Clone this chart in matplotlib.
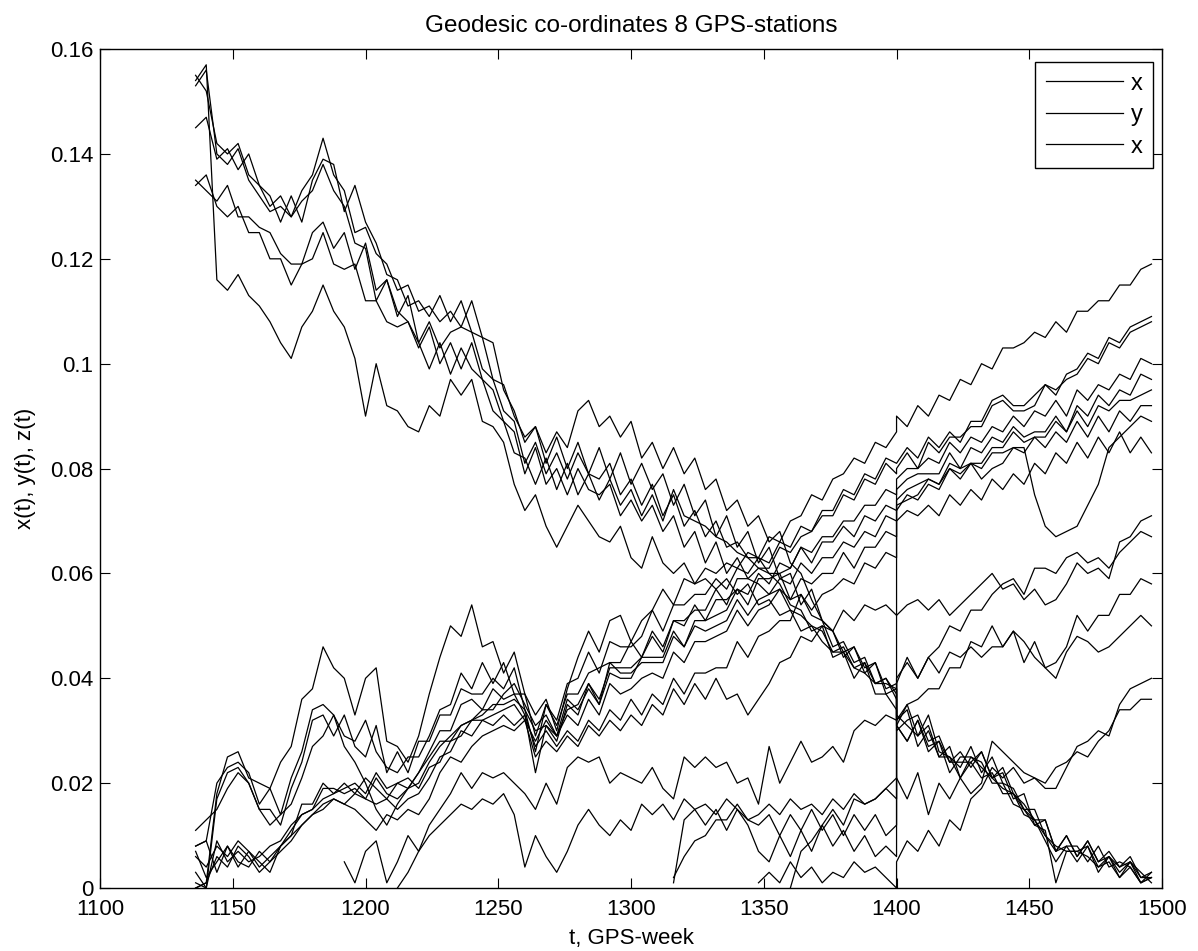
import numpy as np
import matplotlib
matplotlib.use('Agg')
import matplotlib.pyplot as plt
from matplotlib.ticker import FormatStrFormatter

'''
Geodesic co-ordinates of 8 GPS-stations against GPS week.
Values are read off the original figure every 4 weeks, in units of 0.001.
Each series is split at week 1400 (the frame change), so it is given as
a "pre" part that ends at week 1400 and a "post" part that starts there.
'''

plt.rcParams['font.family'] = ['Liberation Sans', 'DejaVu Sans']

# GPS weeks
weeksPre = np.arange(1136, 1401, 4)
weeksPost = np.arange(1400, 1497, 4)

# decreasing series
decA_pre = [155, 152, 142, 140, 142, 136, 134, 130, 132, 128, 133, 136, 143, 136, 133, 125, 126, 121, 119, 114,
            115, 110, 111, 108, 110, 107, 112, 105, 104, 95, 91, 85, 88, 83, 87, 84, 91, 93, 88, 90,
            86, 89, 82, 85, 80, 84, 79, 82, 76, 78, 72, 74, 69, 71, 66, 68, 62, 60, 55, 51,
            49, 44, 46, 41, 43, 37, 38]
decA_post = [31, 28, 32, 27, 28, 24, 26, 23, 26, 21, 22, 17, 18, 12, 13, 7, 10, 6, 9, 5, 7, 4, 6, 2, 3]

decB_pre = [145, 147, 139, 141, 137, 140, 134, 132, 127, 132, 127, 135, 139, 138, 129, 134, 127, 123, 117, 116,
            111, 112, 109, 113, 108, 112, 106, 105, 97, 96, 90, 86, 88, 81, 86, 80, 85, 79, 84, 78,
            83, 77, 81, 76, 79, 73, 77, 71, 74, 67, 71, 65, 68, 62, 65, 59, 60, 54, 57, 51,
            49, 45, 46, 42, 43, 38, 39]
decB_post = [32, 35, 29, 33, 26, 25, 23, 27, 22, 25, 20, 19, 15, 15, 10, 7, 10, 6, 9, 5, 6, 4, 5, 2, 2]

decC_pre = [135, 133, 131, 134, 128, 128, 126, 125, 121, 119, 119, 125, 127, 122, 125, 118, 123, 114, 116, 109,
            113, 104, 108, 103, 106, 107, 106, 99, 97, 91, 89, 81, 85, 79, 83, 78, 83, 79, 78, 81,
            75, 78, 73, 77, 71, 75, 69, 72, 67, 70, 65, 66, 63, 63, 60, 60, 55, 56, 52, 51,
            46, 47, 43, 44, 39, 40, 36]
decC_post = [30, 32, 33, 28, 29, 24, 24, 24, 26, 21, 23, 18, 16, 13, 13, 7, 8, 8, 5, 8, 4, 5, 4, 1, 3]

decD_pre = [154, 157, 116, 114, 117, 113, 111, 108, 104, 101, 107, 110, 115, 110, 107, 101, 90, 100, 92, 91,
            88, 87, 92, 90, 97, 94, 97, 89, 88, 85, 77, 72, 75, 69, 65, 69, 73, 70, 67, 66,
            69, 63, 61, 67, 62, 60, 62, 58, 59, 57, 59, 56, 58, 54, 55, 52, 53, 49, 50, 47,
            45, 46, 42, 43, 39, 40, 37]
decD_post = [31, 28, 32, 26, 28, 22, 25, 25, 24, 20, 20, 16, 15, 12, 11, 1, 7, 7, 6, 4, 5, 2, 4, 1, 2]

decE_pre = [153, 156, 140, 138, 141, 135, 132, 129, 130, 128, 131, 133, 138, 133, 130, 123, 122, 112, 116, 110,
            108, 103, 107, 100, 104, 99, 104, 97, 95, 89, 87, 79, 84, 77, 80, 75, 80, 76, 75, 77,
            71, 74, 70, 73, 68, 71, 65, 68, 62, 66, 60, 63, 59, 58, 56, 57, 53, 52, 50, 49,
            45, 45, 42, 41, 39, 39, 38]
decE_post = [33, 31, 29, 31, 25, 27, 21, 25, 23, 21, 19, 18, 15, 13, 10, 8, 7, 7, 8, 4, 6, 3, 5, 3, 1]

decF_pre = [134, 136, 130, 128, 130, 125, 125, 120, 120, 115, 119, 120, 125, 119, 118, 119, 112, 112, 108, 107,
            108, 104, 99, 104, 98, 103, 99, 97, 91, 89, 83, 82, 77, 82, 76, 81, 75, 79, 74, 78,
            73, 76, 71, 75, 70, 76, 71, 70, 69, 67, 66, 64, 63, 61, 60, 58, 54, 53, 49, 50,
            44, 45, 40, 43, 37, 37, 34]
decF_post = [32, 34, 27, 30, 25, 25, 21, 24, 21, 22, 18, 18, 14, 13, 9, 5, 8, 5, 8, 3, 6, 2, 5, 1, 2]

# increasing series
incT_pre = [0, 1, 18, 25, 26, 21, 20, 19, 24, 27, 36, 38, 46, 42, 40, 33, 40, 42, 28, 27,
            24, 29, 37, 44, 50, 48, 54, 46, 47, 41, 45, 37, 33, 36, 30, 38, 44, 49, 45, 51,
            52, 47, 51, 53, 57, 54, 59, 58, 61, 60, 62, 61, 64, 63, 67, 66, 70, 71, 75, 74,
            78, 79, 82, 81, 85, 84, 87]
incT_post = [90, 88, 92, 90, 94, 93, 97, 96, 100, 99, 103, 103, 104, 106, 105, 108, 106, 110, 110, 112,
             112, 115, 115, 118, 119]

incPa_pre = [8, 9, 20, 23, 24, 22, 16, 19, 14, 21, 26, 34, 35, 33, 29, 28, 32, 26, 23, 22,
             25, 25, 29, 34, 35, 41, 38, 43, 39, 43, 37, 37, 29, 35, 32, 39, 40, 45, 41, 47,
             46, 46, 48, 53, 49, 54, 54, 56, 56, 59, 57, 61, 60, 63, 62, 66, 65, 69, 68, 72,
             72, 76, 75, 79, 78, 82, 81]
incPa_post = [81, 84, 82, 86, 84, 87, 85, 89, 89, 93, 94, 92, 92, 94, 96, 94, 98, 99, 102, 101,
              105, 104, 107, 108, 109]

incPb_pre = [8, 9, 3, 8, 4, 7, 5, 3, 8, 10, 16, 16, 20, 18, 19, 20, 18, 22, 19, 20,
             21, 19, 23, 24, 28, 29, 32, 32, 33, 34, 35, 32, 28, 32, 29, 34, 35, 39, 36, 42,
             42, 42, 44, 48, 45, 51, 51, 53, 53, 57, 54, 59, 59, 61, 61, 65, 64, 67, 68, 71,
             71, 75, 74, 78, 77, 81, 79]
incPb_post = [80, 83, 80, 85, 83, 86, 86, 88, 88, 92, 93, 91, 91, 92, 96, 95, 97, 98, 101, 100,
              104, 103, 106, 107, 108]

incM1_pre = [1, 0, 17, 22, 23, 20, 15, 15, 12, 19, 24, 32, 33, 29, 33, 27, 25, 31, 22, 26,
             22, 28, 28, 33, 33, 38, 37, 37, 40, 38, 42, 34, 26, 35, 31, 37, 37, 41, 42, 43,
             43, 47, 44, 49, 46, 51, 50, 54, 51, 55, 55, 57, 56, 60, 58, 62, 61, 65, 64, 67,
             67, 70, 70, 73, 73, 76, 75]
incM1_post = [78, 80, 80, 82, 81, 85, 83, 86, 85, 88, 87, 90, 88, 91, 90, 93, 90, 95, 93, 96,
              95, 98, 97, 101, 100]

incM2_pre = [7, 2, 5, 8, 5, 4, 7, 5, 8, 11, 14, 15, 19, 19, 18, 19, 17, 21, 18, 17,
             19, 20, 24, 27, 29, 31, 32, 34, 34, 37, 39, 35, 31, 33, 29, 36, 34, 38, 35, 41,
             40, 40, 44, 44, 44, 49, 46, 51, 51, 52, 53, 57, 54, 59, 59, 60, 61, 65, 62, 66,
             66, 69, 67, 71, 70, 73, 72]
incM2_post = [76, 78, 79, 79, 79, 83, 80, 84, 83, 86, 85, 88, 86, 87, 87, 90, 87, 92, 90, 94,
              92, 95, 94, 98, 97]

incM3_pre = [11, 13, 15, 19, 22, 20, 15, 12, 14, 16, 21, 27, 29, 33, 27, 24, 20, 15, 12, 16,
             19, 22, 26, 30, 30, 35, 36, 34, 38, 36, 37, 33, 22, 31, 28, 35, 33, 39, 35, 43,
             41, 41, 43, 43, 43, 48, 46, 50, 49, 50, 51, 55, 52, 55, 56, 59, 58, 62, 60, 63,
             63, 66, 65, 68, 67, 71, 70]
incM3_post = [74, 76, 77, 78, 77, 81, 80, 81, 81, 84, 84, 87, 85, 86, 86, 89, 87, 91, 88, 92,
              91, 93, 93, 94, 95]

incM4_pre = [3, 0, 9, 5, 7, 5, 6, 8, 9, 12, 14, 15, 17, 18, 20, 18, 21, 19, 17, 20,
             19, 22, 25, 28, 28, 31, 32, 33, 35, 35, 36, 34, 30, 31, 29, 33, 31, 36, 33, 39,
             37, 38, 40, 41, 40, 45, 43, 47, 47, 48, 49, 53, 50, 53, 54, 57, 55, 59, 58, 60,
             60, 64, 61, 65, 65, 68, 67]
incM4_post = [73, 74, 75, 78, 77, 80, 79, 81, 80, 83, 83, 84, 83, 86, 84, 87, 85, 89, 86, 90,
              87, 91, 89, 92, 92]

incM5_pre = [6, 4, 8, 6, 9, 7, 4, 6, 8, 10, 12, 14, 15, 17, 16, 18, 17, 16, 17, 15,
             17, 18, 21, 25, 26, 30, 29, 32, 31, 33, 31, 33, 27, 30, 27, 30, 28, 32, 30, 34,
             32, 36, 33, 37, 35, 40, 37, 41, 41, 42, 42, 47, 44, 48, 49, 51, 51, 56, 53, 56,
             57, 59, 58, 62, 61, 64, 63]
incM5_post = [72, 75, 74, 77, 76, 80, 78, 81, 78, 80, 81, 84, 84, 75, 69, 67, 68, 69, 73, 77,
              84, 86, 88, 90, 89]

incM6_pre = [0, 1, 6, 4, 8, 6, 3, 5, 7, 9, 12, 14, 16, 17, 16, 15, 13, 11, 14, 13,
             15, 14, 17, 22, 25, 24, 27, 29, 30, 31, 30, 32, 25, 28, 26, 29, 27, 31, 29, 32,
             30, 33, 31, 35, 33, 38, 35, 39, 36, 40, 36, 37, 33, 36, 39, 43, 44, 48, 47, 50,
             49, 53, 51, 54, 53, 54, 52]
incM6_post = [70, 72, 71, 73, 71, 75, 73, 76, 74, 78, 76, 79, 77, 81, 79, 83, 81, 85, 82, 86,
              83, 87, 83, 86, 83]

# low series that start later (pre parts end at week 1400)
lowA_pre = [5, 1, 7, 9, 1, 5, 10, 7, 12, 15, 18, 22, 19, 22, 21, 22, 20, 18, 15, 20,
            16, 23, 25, 24, 25, 20, 22, 21, 20, 23, 19, 17, 25, 23, 25, 23, 24, 20, 21, 16,
            27, 20, 24, 28, 24, 25, 27, 24, 30, 32, 31, 33, 32]
lowA_post = [52, 54, 55, 53, 55, 52, 54, 56, 58, 60, 57, 58, 55, 57, 54, 55, 58, 62, 60, 61,
             59, 66, 67, 70, 71]

lowB_pre = [0, 3, 7, 10, 12, 14, 16, 15, 17, 16, 18, 14, 4, 10, 6, 3, 7, 12, 15, 12,
            10, 13, 11, 16, 14, 16, 13, 17, 15, 16, 14, 17, 15, 13, 14, 16, 14, 17, 15, 16,
            14, 17, 15, 18, 16, 17, 19, 17]
lowB_post = [39, 44, 40, 44, 46, 50, 49, 53, 53, 56, 58, 59, 56, 61, 61, 60, 63, 64, 62, 63,
             61, 64, 66, 68, 67]

lowC_pre = [1, 13, 15, 12, 15, 11, 15, 12, 7, 5, 10, 6, 11, 7, 12, 8, 11, 7, 10, 6, 8, 6]
lowC_post = [31, 35, 36, 38, 38, 42, 42, 47, 46, 50, 46, 49, 47, 44, 42, 43, 46, 52, 49, 52,
             52, 56, 56, 59, 58]

lowD_pre = [2, 6, 9, 10, 13, 13, 16, 13, 12, 14, 10, 14, 11, 15, 11, 14, 10, 14, 11, 14, 10, 12]
lowD_post = [40, 43, 40, 44, 41, 45, 44, 46, 44, 46, 46, 49, 43, 47, 42, 40, 45, 48, 47, 45,
             46, 48, 50, 52, 50]

lowE_pre = [0, 7, 9, 12, 15, 12, 17, 16, 17, 19, 21]
lowE_post = [21, 17, 22, 14, 20, 17, 21, 18, 20, 28, 26, 24, 22, 21, 19, 19, 23, 27, 28, 30,
             29, 35, 38, 39, 40]

lowF_pre = [1, 3, 1, 5, 2, 4, 1, 3, 2, 5, 3, 4, 2, 0]
lowF_post = [5, 9, 7, 11, 8, 13, 11, 17, 19, 23, 21, 23, 20, 21, 20, 23, 24, 26, 25, 28,
             30, 34, 34, 36, 36]

legendLabels = ['x', 'y', 'x']

series = [(decA_pre, decA_post), (decB_pre, decB_post), (decC_pre, decC_post),
          (decD_pre, decD_post), (decE_pre, decE_post), (decF_pre, decF_post),
          (incT_pre, incT_post), (incPa_pre, incPa_post), (incPb_pre, incPb_post),
          (incM1_pre, incM1_post), (incM2_pre, incM2_post), (incM3_pre, incM3_post),
          (incM4_pre, incM4_post), (incM5_pre, incM5_post), (incM6_pre, incM6_post),
          (lowA_pre, lowA_post), (lowB_pre, lowB_post), (lowC_pre, lowC_post),
          (lowD_pre, lowD_post), (lowE_pre, lowE_post), (lowF_pre, lowF_post)]

# graph settings
tickFont = 16
titleFont = 17.5
legendFont = 17
lineWidth = 0.9

fig = plt.figure(figsize=(11.98, 9.51), dpi=100)
ax = fig.add_axes([0.0835, 0.0662, 0.8865, 0.8822])

for i, (pre, post) in enumerate(series):
    x = np.concatenate([weeksPre[len(weeksPre) - len(pre):], weeksPost])
    y = np.concatenate([pre, post]) / 1000.0
    label = legendLabels[i] if i < len(legendLabels) else None
    ax.plot(x, y, color='black', linewidth=lineWidth, label=label)

ax.set_xlim(1100, 1500)
ax.set_ylim(0, 0.16)
ax.set_xticks(np.arange(1100, 1501, 50))
ax.set_yticks(np.arange(0, 0.161, 0.02))
ax.yaxis.set_major_formatter(FormatStrFormatter('%g'))
ax.tick_params(direction='in', top=True, right=True, length=7, width=0.8,
               labelsize=tickFont, pad=5)
ax.tick_params(axis='x', pad=8)
for spine in ax.spines.values():
    spine.set_linewidth(1.0)

ax.set_title('Geodesic co-ordinates 8 GPS-stations', fontsize=titleFont, pad=12)
ax.set_xlabel('t, GPS-week', fontsize=tickFont, labelpad=6)
ax.set_ylabel('x(t), y(t), z(t)', fontsize=tickFont, labelpad=10)

leg = ax.legend(loc='upper right', bbox_to_anchor=(0.9915, 0.9845), borderaxespad=0,
                fontsize=legendFont, handlelength=3.3, handletextpad=0.3,
                labelspacing=0.4, borderpad=0.45, fancybox=False, framealpha=1)
leg.get_frame().set_edgecolor('black')
leg.get_frame().set_linewidth(1.0)

fig.savefig('out.png', dpi=100)
